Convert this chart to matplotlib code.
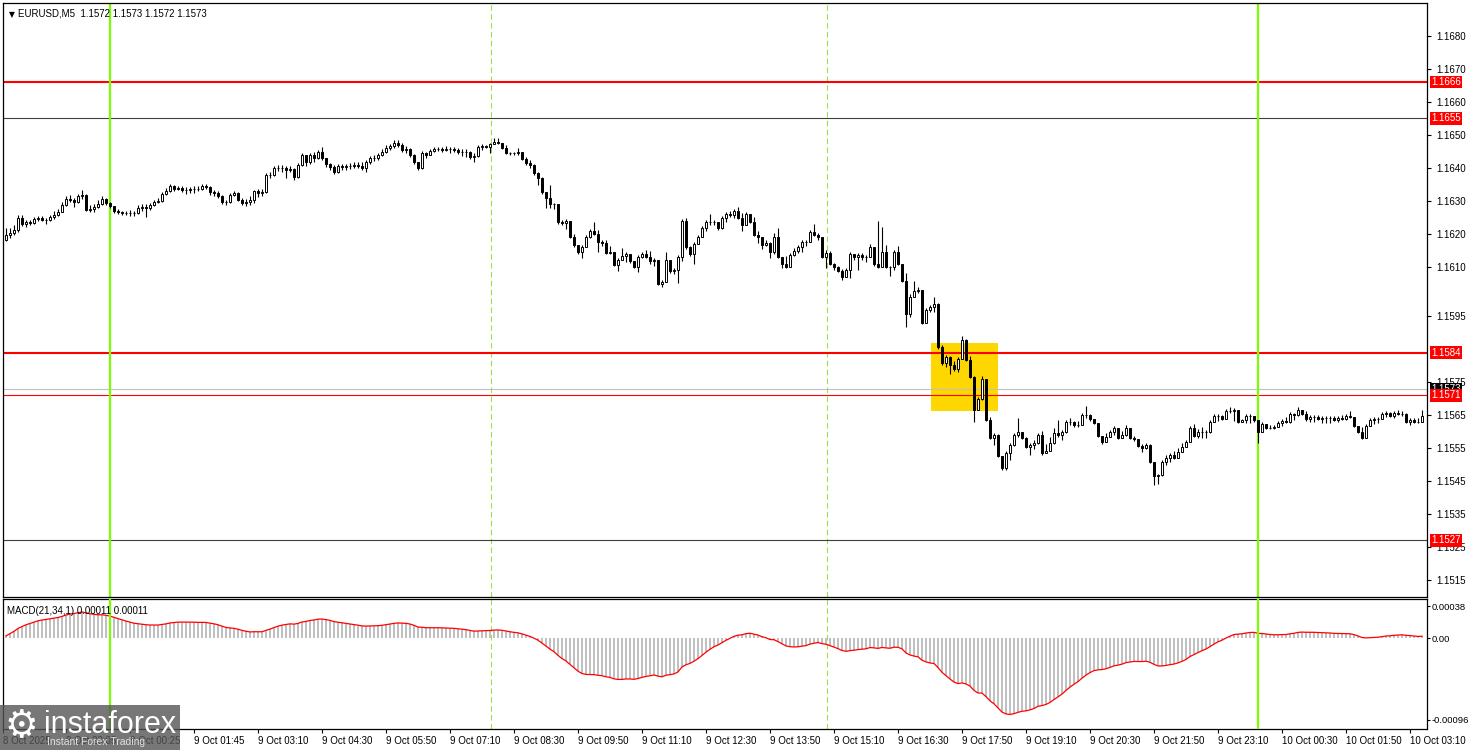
import numpy as np
import pandas as pd
import matplotlib
matplotlib.use("Agg")
import matplotlib.pyplot as plt
from matplotlib.patches import Rectangle

plt.rcParams['font.family'] = ['Liberation Sans', 'DejaVu Sans']
plt.rcParams['font.size'] = 7

# ---------------- data (prices in pips above 1.1500) ----------------
BASE = 1.15
open_first = 118.1
close_pips = [
    119.6, 120.3, 121.2, 124.8, 123.0, 123.6, 123.3, 124.5, 124.8, 124.2,
    124.2, 125.1, 125.7, 126.6, 128.7, 130.6, 130.3, 129.7, 131.5, 131.8,
    127.2, 127.5, 128.1, 129.0, 130.6, 129.4, 128.4, 126.9, 126.6, 126.3,
    126.3, 126.3, 126.3, 127.8, 128.1, 127.8, 128.7, 129.7, 130.0, 132.1,
    133.0, 134.5, 133.6, 133.9, 133.3, 133.3, 133.6, 133.6, 133.6, 134.5,
    134.2, 132.7, 132.4, 131.5, 129.7, 129.7, 131.8, 132.4, 130.3, 129.4,
    129.7, 130.3, 133.0, 132.4, 132.7, 137.8, 137.8, 140.0, 140.0, 140.0,
    139.4, 139.7, 137.2, 140.9, 143.9, 141.8, 143.9, 143.0, 144.8, 143.0,
    141.2, 140.3, 138.8, 140.6, 140.3, 140.6, 140.6, 140.9, 140.6, 140.0,
    141.8, 143.0, 143.0, 143.9, 144.8, 146.0, 146.6, 147.5, 146.9, 145.4,
    145.7, 143.9, 141.8, 140.0, 144.5, 143.9, 145.1, 145.7, 145.7, 145.4,
    145.7, 145.7, 145.4, 144.8, 144.8, 144.8, 143.3, 143.6, 146.3, 146.6,
    146.3, 147.2, 147.9, 147.5, 146.0, 144.5, 144.5, 144.5, 144.8, 142.7,
    141.5, 140.9, 138.5, 136.9, 132.7, 130.9, 129.0, 129.0, 123.6, 123.3,
    123.9, 119.0, 116.6, 114.5, 116.0, 119.0, 120.9, 120.0, 117.5, 117.2,
    114.2, 114.5, 110.6, 112.1, 113.3, 113.9, 111.8, 110.0, 113.0, 113.9,
    113.0, 111.8, 112.1, 104.8, 105.4, 112.1, 108.7, 109.0, 113.0, 123.9,
    116.0, 113.9, 116.9, 119.0, 121.8, 123.6, 123.6, 123.6, 121.8, 124.8,
    126.0, 125.7, 126.9, 124.8, 122.7, 126.0, 123.6, 119.6, 119.0, 116.6,
    117.2, 114.5, 119.0, 113.0, 110.9, 110.0, 113.6, 114.8, 116.0, 117.5,
    117.5, 120.6, 119.6, 119.0, 113.0, 114.2, 110.9, 110.0, 108.7, 106.9,
    109.0, 113.9, 113.0, 113.6, 113.0, 113.0, 116.0, 110.9, 110.0, 114.5,
    110.0, 110.0, 114.5, 110.9, 105.7, 95.6, 100.8, 102.6, 103.0, 93.0,
    96.9, 97.8, 98.7, 85.6, 80.8, 82.6, 80.2, 79.0, 82.0, 87.8,
    81.7, 76.6, 66.6, 69.9, 76.0, 63.5, 58.1, 59.0, 52.6, 49.0,
    53.6, 56.0, 59.0, 59.9, 58.1, 55.3, 56.0, 56.6, 59.0, 53.6,
    54.2, 56.6, 59.6, 59.0, 59.9, 63.0, 63.0, 62.0, 62.0, 65.0,
    65.0, 63.8, 62.6, 58.7, 56.9, 58.4, 59.9, 61.1, 58.1, 59.0,
    61.1, 58.1, 57.8, 55.6, 55.0, 56.0, 50.8, 46.4, 46.7, 50.8,
    52.0, 52.9, 52.0, 53.9, 55.3, 56.9, 61.1, 58.7, 59.9, 59.9,
    59.9, 63.0, 64.7, 64.7, 63.8, 66.3, 66.3, 66.6, 63.0, 63.5,
    64.7, 64.7, 63.5, 59.9, 62.3, 61.1, 61.1, 61.4, 62.6, 63.2,
    62.9, 65.3, 65.0, 66.6, 65.3, 63.8, 64.4, 64.4, 63.8, 64.1,
    64.1, 64.1, 63.5, 64.1, 63.8, 64.7, 64.4, 61.7, 59.9, 58.1,
    61.7, 63.5, 63.8, 63.8, 65.3, 65.6, 64.7, 65.6, 65.3, 65.3,
    62.9, 63.5, 62.9, 62.9, 64.7,
]
high_pips = [
    121.8, 121.8, 122.7, 125.7, 125.7, 124.2, 124.2, 125.1, 125.4, 125.4,
    124.8, 125.7, 126.9, 127.5, 129.7, 131.5, 131.8, 130.9, 132.1, 133.3,
    132.1, 128.7, 129.0, 130.3, 131.5, 130.9, 129.7, 128.4, 127.5, 126.9,
    126.9, 127.2, 126.9, 128.7, 129.0, 129.0, 129.4, 130.3, 130.9, 132.7,
    133.9, 135.1, 134.8, 134.5, 134.5, 134.2, 134.2, 134.5, 134.5, 135.1,
    135.1, 134.5, 133.3, 133.0, 131.8, 130.3, 132.4, 133.0, 132.7, 130.9,
    130.6, 131.5, 133.3, 133.6, 133.6, 138.5, 138.8, 140.6, 140.9, 140.9,
    140.6, 140.6, 140.0, 141.5, 144.5, 143.9, 144.5, 144.8, 145.4, 146.3,
    143.0, 141.5, 140.9, 141.2, 141.2, 141.2, 141.5, 141.8, 141.8, 141.8,
    142.4, 143.6, 143.9, 144.5, 145.7, 146.9, 147.2, 148.5, 148.5, 147.5,
    146.6, 146.0, 144.2, 141.8, 145.1, 144.8, 145.7, 146.3, 146.3, 146.3,
    146.6, 146.3, 146.3, 146.0, 145.7, 145.7, 145.1, 144.5, 146.9, 147.2,
    146.9, 147.5, 149.1, 149.1, 147.5, 146.9, 144.8, 144.8, 146.0, 144.5,
    143.3, 142.4, 141.2, 138.8, 137.2, 132.7, 134.8, 129.4, 128.7, 124.2,
    124.5, 123.6, 120.0, 116.3, 116.6, 119.6, 121.5, 123.6, 121.2, 118.1,
    118.1, 116.3, 114.5, 112.7, 115.7, 114.5, 113.6, 111.5, 113.6, 114.5,
    115.1, 114.8, 112.7, 111.5, 106.0, 114.5, 111.5, 109.7, 113.6, 124.5,
    124.8, 116.3, 117.5, 119.6, 122.4, 124.2, 126.0, 124.2, 123.6, 125.4,
    126.6, 126.9, 127.5, 128.1, 126.3, 126.6, 125.4, 125.1, 120.9, 118.1,
    118.1, 117.5, 120.3, 121.8, 112.4, 113.3, 114.2, 115.7, 116.6, 118.1,
    118.1, 121.2, 123.0, 120.3, 117.8, 115.1, 114.8, 111.2, 110.3, 109.4,
    109.7, 114.5, 113.9, 114.2, 114.2, 113.6, 116.9, 115.1, 123.9, 122.1,
    116.6, 110.3, 115.1, 116.3, 110.3, 108.1, 101.7, 105.7, 103.9, 103.0,
    97.5, 98.4, 100.8, 99.0, 86.3, 83.3, 82.9, 81.4, 82.6, 89.0,
    88.1, 82.9, 76.9, 70.5, 76.9, 75.4, 64.5, 59.6, 59.3, 52.6,
    54.2, 56.6, 59.6, 64.2, 59.3, 58.4, 56.6, 57.5, 59.6, 60.2,
    56.3, 58.4, 61.1, 63.5, 60.5, 63.5, 64.2, 63.2, 63.2, 65.7,
    67.8, 65.3, 63.8, 62.3, 58.7, 59.6, 60.5, 61.7, 60.2, 60.2,
    62.0, 60.5, 58.7, 57.5, 56.3, 56.6, 56.3, 50.0, 47.3, 51.4,
    52.9, 53.6, 54.2, 55.0, 56.6, 57.5, 61.7, 62.3, 60.8, 61.4,
    60.5, 63.5, 65.3, 65.3, 65.0, 66.9, 67.5, 67.2, 66.0, 63.8,
    65.3, 65.3, 64.7, 63.2, 62.9, 62.0, 62.0, 62.0, 63.2, 63.8,
    64.4, 66.0, 65.7, 67.5, 66.6, 66.3, 65.0, 65.0, 65.0, 64.7,
    64.7, 64.7, 64.7, 64.7, 65.0, 65.3, 66.3, 64.1, 61.7, 61.4,
    62.3, 64.1, 64.4, 64.4, 66.0, 66.3, 66.0, 66.3, 66.6, 66.3,
    65.7, 64.1, 64.1, 64.1, 66.6,
]
low_pips = [
    117.8, 118.7, 119.6, 120.6, 122.4, 122.1, 122.7, 123.0, 123.9, 123.9,
    123.0, 123.9, 124.5, 125.4, 126.6, 128.4, 129.7, 128.1, 129.4, 130.6,
    126.9, 126.6, 126.6, 127.8, 128.7, 128.7, 127.8, 126.3, 126.0, 125.7,
    125.7, 125.4, 125.4, 126.0, 126.9, 125.1, 127.2, 128.4, 129.4, 129.7,
    131.8, 132.7, 133.0, 133.3, 132.7, 132.1, 132.4, 132.4, 133.0, 133.3,
    133.6, 131.8, 131.5, 130.9, 129.0, 128.7, 129.4, 131.5, 130.0, 128.7,
    128.4, 128.7, 129.4, 131.2, 131.5, 132.4, 136.9, 137.5, 139.1, 138.8,
    136.9, 138.8, 136.3, 136.9, 140.6, 140.6, 141.2, 141.8, 142.7, 142.4,
    140.3, 139.4, 138.1, 138.5, 139.4, 139.4, 139.7, 140.0, 140.0, 139.4,
    138.8, 141.2, 142.1, 142.4, 143.6, 144.5, 145.4, 146.0, 146.3, 144.8,
    144.5, 143.3, 141.2, 139.4, 139.7, 143.0, 143.9, 144.8, 145.1, 144.8,
    145.1, 144.5, 144.8, 144.2, 143.6, 143.3, 142.7, 141.8, 143.3, 145.4,
    146.0, 144.5, 147.5, 147.2, 145.7, 144.2, 143.9, 143.9, 143.9, 142.4,
    140.9, 140.0, 137.8, 134.8, 132.1, 127.8, 127.8, 127.5, 123.0, 122.7,
    121.5, 118.7, 116.0, 113.9, 112.7, 116.6, 118.7, 119.6, 114.5, 116.3,
    113.9, 113.9, 110.3, 108.8, 112.7, 111.5, 111.2, 109.7, 108.5, 112.7,
    112.7, 110.9, 110.3, 104.5, 103.9, 106.6, 108.1, 107.9, 105.1, 111.8,
    115.4, 113.3, 110.9, 116.9, 119.3, 120.9, 122.7, 122.7, 121.2, 121.5,
    123.6, 125.1, 124.8, 124.5, 120.9, 123.0, 123.3, 119.3, 117.2, 115.4,
    116.3, 112.7, 113.9, 112.7, 109.7, 109.7, 110.3, 113.3, 114.2, 114.5,
    116.3, 118.7, 119.3, 118.1, 112.7, 109.7, 110.6, 109.0, 108.4, 106.0,
    107.2, 106.6, 112.1, 109.0, 112.1, 111.5, 113.6, 110.3, 109.7, 110.3,
    109.7, 107.2, 109.0, 110.6, 105.4, 91.7, 94.8, 101.7, 102.1, 92.7,
    93.6, 96.3, 96.3, 85.1, 80.2, 79.6, 77.5, 78.4, 78.1, 82.6,
    81.4, 76.3, 62.9, 68.7, 69.6, 63.2, 57.8, 55.9, 52.3, 48.4,
    48.4, 51.4, 55.6, 58.4, 57.8, 55.0, 52.9, 54.7, 56.3, 52.9,
    53.9, 54.4, 56.3, 58.4, 57.5, 59.6, 62.0, 61.4, 61.4, 63.0,
    64.1, 63.2, 62.3, 58.4, 56.3, 56.9, 58.4, 59.0, 57.8, 58.1,
    58.7, 57.8, 57.2, 55.3, 53.9, 54.7, 50.5, 43.7, 44.0, 46.4,
    49.9, 50.8, 51.7, 52.3, 53.9, 55.3, 56.9, 58.4, 58.1, 58.1,
    58.1, 59.6, 63.2, 63.2, 63.5, 64.4, 65.7, 63.2, 62.6, 62.9,
    62.6, 62.6, 62.9, 56.6, 60.8, 60.8, 60.8, 60.8, 61.4, 61.7,
    62.6, 62.6, 63.5, 64.7, 65.0, 63.2, 62.9, 62.9, 63.5, 62.6,
    62.6, 62.6, 63.2, 62.9, 63.5, 63.5, 64.1, 61.4, 59.6, 57.8,
    58.1, 63.2, 62.3, 62.6, 63.8, 64.4, 64.4, 64.1, 65.0, 64.7,
    62.6, 62.0, 62.6, 62.6, 62.9,
]
# level the MACD averages carry in from the bars before the visible window
ema_seed = 1.1611

price_ticks = [1.1680, 1.1670, 1.1660, 1.1650, 1.1640, 1.1630, 1.1620, 1.1610,
               1.1595, 1.1575, 1.1565, 1.1555, 1.1545, 1.1535, 1.1525, 1.1515]
macd_ticks = [0.00038, 0.0, -0.00096]
macd_tick_labels = ["0.00038", "0.00", "-0.00096"]

time_tick_idx = [-0.75, 15, 31, 47, 63, 79, 95, 111, 127, 143, 159, 175, 191,
                 207, 223, 239, 255, 271, 287, 303, 319, 335, 351]
time_tick_labels = ["8 Oct 2025", "8 Oct 23:05", "9 Oct 00:25", "9 Oct 01:45",
                    "9 Oct 03:10", "9 Oct 04:30", "9 Oct 05:50", "9 Oct 07:10",
                    "9 Oct 08:30", "9 Oct 09:50", "9 Oct 11:10", "9 Oct 12:30",
                    "9 Oct 13:50", "9 Oct 15:10", "9 Oct 16:30", "9 Oct 17:50",
                    "9 Oct 19:10", "9 Oct 20:30", "9 Oct 21:50", "9 Oct 23:10",
                    "10 Oct 00:30", "10 Oct 01:50", "10 Oct 03:10"]

# horizontal levels: (price, colour, linewidth)
levels = [(1.1666, '#ff0000', 1.5), (1.1655, '#404040', 0.8),
          (1.1584, '#ff0000', 1.5), (1.1571, '#ff0000', 0.8),
          (1.1527, '#404040', 0.8)]
current_price = 1.1573
day_lines = [26, 313]
session_lines = [121.2, 205.2]
box_idx = (231.25, 248.0)
box_price = (1.15663, 1.15869)

# ---------------- build OHLC ----------------
n = min(len(close_pips), len(high_pips), len(low_pips))
close = BASE + np.array(close_pips[:n]) / 1e4
opens = np.concatenate([[BASE + open_first / 1e4], close[:-1]])
high = np.maximum(BASE + np.array(high_pips[:n]) / 1e4, np.maximum(opens, close))
low = np.minimum(BASE + np.array(low_pips[:n]) / 1e4, np.minimum(opens, close))
idx = np.arange(n)

s = pd.Series(np.concatenate([[ema_seed], close]))
macd = (s.ewm(span=21, adjust=False).mean()
        - s.ewm(span=34, adjust=False).mean()).values[1:]

# ---------------- figure ----------------
W, H = 1468, 750
fig = plt.figure(figsize=(W / 100, H / 100), dpi=100)
L, R = 3, 1427
top1, bot1 = 3, 597
top2, bot2 = 599, 729
ax = fig.add_axes([L / W, 1 - bot1 / H, (R - L) / W, (bot1 - top1) / H])
axm = fig.add_axes([L / W, 1 - bot2 / H, (R - L) / W, (bot2 - top2) / H])

xlim = (-0.75, 355.25)
for a in (ax, axm):
    a.set_xlim(*xlim)
    for sp in a.spines.values():
        sp.set_color('black')
        sp.set_linewidth(0.9)

ylo = 1.1680 - 561 / 32970
yhi = 1.1680 + 33 / 32970
ax.set_ylim(ylo, yhi)

# yellow box
ax.add_patch(Rectangle((box_idx[0], box_price[0]), box_idx[1] - box_idx[0],
                       box_price[1] - box_price[0], facecolor='#ffd700',
                       edgecolor='none', zorder=1))

# levels
for p, c, lw in levels:
    ax.axhline(p, color=c, lw=lw, zorder=1.5)
ax.axhline(current_price, color='#c0c0c0', lw=0.8, zorder=1.4)

for d in day_lines:
    ax.axvline(d, color='#7cfc00', lw=1.6, zorder=1.6)
    axm.axvline(d, color='#7cfc00', lw=1.6, zorder=3)
for d in session_lines:
    ax.axvline(d, color='#9be04a', lw=0.8, ls=(0, (5, 3)), zorder=1.2)
    axm.axvline(d, color='#9be04a', lw=0.8, ls=(0, (5, 3)), zorder=1.2)

# candles
ax.vlines(idx, low, high, color='black', lw=0.8, zorder=2)
bull = close >= opens
body_lo = np.minimum(opens, close)
body_h = np.maximum(np.abs(close - opens), 0.000005)
ax.bar(idx[bull], body_h[bull], bottom=body_lo[bull], width=0.62,
       facecolor='white', edgecolor='black', linewidth=0.7, zorder=2.2)
ax.bar(idx[~bull], body_h[~bull], bottom=body_lo[~bull], width=0.62,
       facecolor='black', edgecolor='black', linewidth=0.7, zorder=2.2)

# price axis
ax.yaxis.tick_right()
ax.set_yticks(price_ticks)
ax.set_yticklabels([f"{t:.4f}" for t in price_ticks])
ax.tick_params(axis='y', length=3, width=0.8, pad=4, labelsize=7)
ax.set_xticks([])

def label_box(axis, y, text, fc, z):
    axis.annotate(text, xy=(1, y), xycoords=('axes fraction', 'data'),
                  xytext=(4, 0), textcoords='offset pixels', va='center', ha='left',
                  color='white', fontsize=7,
                  bbox=dict(boxstyle='square,pad=0.12', fc=fc, ec='none'),
                  annotation_clip=False, zorder=z)

label_box(ax, current_price, f"{current_price:.4f}", '#000000', 5)
for p, c, lw in levels:
    label_box(ax, p, f"{p:.4f}", '#ff0000', 6)

# header
ax.text(0.004, 0.989, "\u25bc", transform=ax.transAxes, fontsize=5.5,
        va='top', ha='left', family=['DejaVu Sans'])
ax.text(0.0105, 0.991, "EURUSD,M5  1.1572 1.1573 1.1572 1.1573",
        transform=ax.transAxes, fontsize=7, va='top', ha='left')

# MACD pane
axm.bar(idx, macd, width=0.5, color='#c0c0c0', zorder=2)
axm.plot(idx, macd, color='#ff0000', lw=0.9, zorder=2.5)
axm.set_ylim(-0.00096 - 9 / 85000, 0.00038 + 7 / 85000)
axm.yaxis.tick_right()
axm.set_yticks(macd_ticks)
axm.set_yticklabels(macd_tick_labels)
axm.tick_params(axis='y', length=2, width=0.8, pad=1, labelsize=6.8)
axm.set_xticks(time_tick_idx)
axm.set_xticklabels(time_tick_labels)
for lab in axm.get_xticklabels():
    lab.set_horizontalalignment('left')
axm.tick_params(axis='x', length=3, width=0.8, pad=2, labelsize=7)
axm.text(0.003, 0.95, "MACD(21,34,1) 0.00011 0.00011", transform=axm.transAxes,
         fontsize=7, va='top', ha='left')

# watermark
fig.patches.append(Rectangle((0, 0), 180 / W, 45 / H, transform=fig.transFigure,
                             facecolor='#555555', alpha=0.8, edgecolor='none',
                             zorder=10))
fig.text(4 / W, 23 / H, "\u2699", color='white', fontsize=27, va='center',
         ha='left', family=['DejaVu Sans'], zorder=11)
fig.text(44 / W, 25 / H, "instaforex", color='white', fontsize=22, va='center',
         ha='left', zorder=11)
fig.text(47 / W, 8 / H, "Instant Forex Trading", color='#e0e0e0', fontsize=7.5,
         va='center', ha='left', zorder=11)

fig.savefig("out.png", dpi=100, facecolor='white')
